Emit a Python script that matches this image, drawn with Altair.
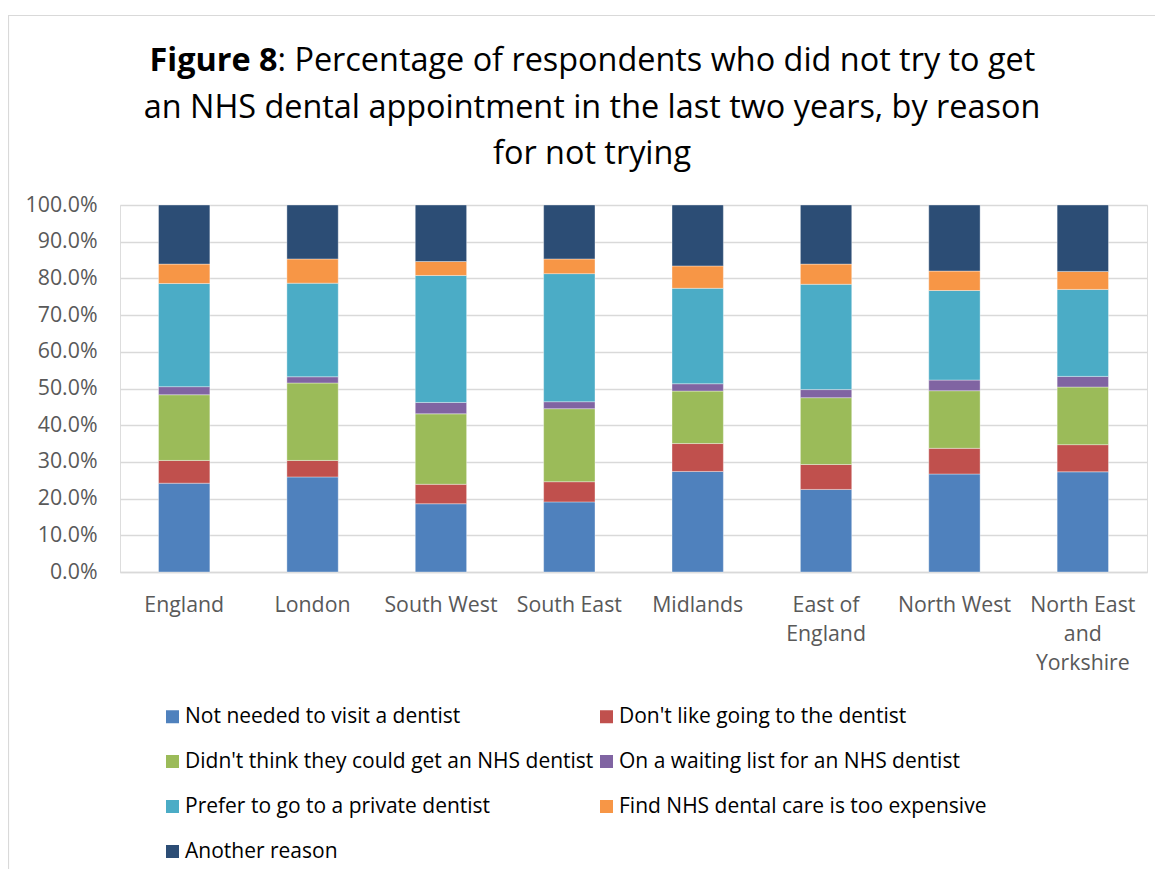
import altair as alt
import pandas as pd

regions = ["England", "London", "South West", "South East", "Midlands",
           "East of England", "North West", "North East and Yorkshire"]
region_lines = {
    "East of England": ["East of", "England"],
    "North East and Yorkshire": ["North East", "and", "Yorkshire"],
}
reasons = ["Not needed to visit a dentist",
           "Don't like going to the dentist",
           "Didn't think they could get an NHS dentist",
           "On a waiting list for an NHS dentist",
           "Prefer to go to a private dentist",
           "Find NHS dental care is too expensive",
           "Another reason"]
colors = ["#4F81BD", "#C0504D", "#9BBB59", "#8064A2", "#4BACC6", "#F79646", "#2C4D75"]

not_needed = [24.2, 25.9, 18.6, 19.1, 27.4, 22.5, 26.7, 27.3]
dont_like = [6.2, 4.5, 5.3, 5.5, 7.6, 6.8, 7.0, 7.4]
didnt_think = [17.9, 21.1, 19.2, 19.9, 14.3, 18.2, 15.7, 15.7]
waiting = [2.2, 1.7, 3.1, 1.9, 2.0, 2.2, 2.9, 2.9]
private = [28.1, 25.5, 34.6, 34.9, 26.0, 28.7, 24.4, 23.7]
expensive = [5.3, 6.6, 3.8, 4.0, 6.1, 5.5, 5.3, 4.9]
another = [16.1, 14.7, 15.4, 14.7, 16.6, 16.1, 18.0, 18.1]

series = [not_needed, dont_like, didnt_think, waiting, private, expensive, another]

rows = []
for k, (reason, vals) in enumerate(zip(reasons, series)):
    for region, v in zip(regions, vals):
        rows.append({"region": region, "reason": reason, "value": v, "order": k})
df = pd.DataFrame(rows)

FONT = "Open Sans"
AX = 21.3
TS = 32.4

label_expr = "datum.label"
for name, parts in region_lines.items():
    arr = "[" + ",".join("'" + p + "'" for p in parts) + "]"
    label_expr = f"datum.label == '{name}' ? {arr} : ({label_expr})"

bars = alt.Chart(df).mark_bar(stroke="white", strokeWidth=0.6, strokeOpacity=0.6).encode(
    x=alt.X("region:N", sort=regions, title=None,
            scale=alt.Scale(paddingInner=0.6, paddingOuter=0.3),
            axis=alt.Axis(labelAngle=0, labelFontSize=AX, labelColor="#595959",
                          labelFont=FONT, labelPadding=22, labelLineHeight=29,
                          ticks=False, domainColor="#d9d9d9", domainWidth=1.5,
                          labelExpr=label_expr, labelLimit=200)),
    y=alt.Y("value:Q", stack="zero", title=None,
            scale=alt.Scale(domain=[0, 100], nice=False),
            axis=alt.Axis(values=list(range(0, 101, 10)), labelFontSize=AX,
                          labelColor="#595959", labelFont=FONT, labelPadding=23,
                          ticks=False, domain=False, gridColor="#d9d9d9", gridWidth=1.3,
                          labelExpr="format(datum.value, '.1f') + '%'")),
    color=alt.Color("reason:N", sort=reasons,
                    scale=alt.Scale(domain=reasons, range=colors),
                    legend=alt.Legend(title=None, orient="none", legendX=42, legendY=501,
                                      direction="horizontal", padding=0,
                                      columns=2, columnPadding=2, rowPadding=23,
                                      symbolType="square", symbolSize=169,
                                      symbolStrokeWidth=0,
                                      labelFontSize=21, labelFont=FONT, labelColor="#000000",
                                      labelLimit=700, labelOffset=2)),
    order=alt.Order("order:Q", sort="ascending"),
)

t1a = alt.Chart(pd.DataFrame({"t": ["Figure 8"]})).mark_text(
    font=FONT, fontSize=TS, fontWeight="bold", align="right", baseline="alphabetic", color="#000"
).encode(text="t:N", x=alt.value(157.5), y=alt.value(-134))
t1b = alt.Chart(pd.DataFrame({"t": [": Percentage of respondents who did not try to get"]})).mark_text(
    font=FONT, fontSize=TS, align="left", baseline="alphabetic", color="#000"
).encode(text="t:N", x=alt.value(157.5), y=alt.value(-134))
t2 = alt.Chart(pd.DataFrame({"t": ["an NHS dental appointment in the last two years, by reason"]})).mark_text(
    font=FONT, fontSize=TS, align="center", baseline="alphabetic", color="#000"
).encode(text="t:N", x=alt.value(472), y=alt.value(-87))
t3 = alt.Chart(pd.DataFrame({"t": ["for not trying"]})).mark_text(
    font=FONT, fontSize=TS, align="center", baseline="alphabetic", color="#000"
).encode(text="t:N", x=alt.value(472), y=alt.value(-41))

border = alt.Chart(pd.DataFrame({"a": [0]})).mark_rect(
    fill=None, stroke="#d9d9d9", strokeWidth=1.2
).encode(x=alt.value(-111.5), x2=alt.value(1060), y=alt.value(-189.5), y2=alt.value(700))

chart = alt.layer(border, bars, t1a, t1b, t2, t3).properties(
    width=1027, height=367,
    autosize=alt.AutoSizeParams(type="none"),
    padding={"left": 112, "top": 197, "right": 8, "bottom": 297},
).configure_view(stroke=None).configure(background="white")

chart.save("out.html", embed_options={"renderer": "svg", "actions": False})
